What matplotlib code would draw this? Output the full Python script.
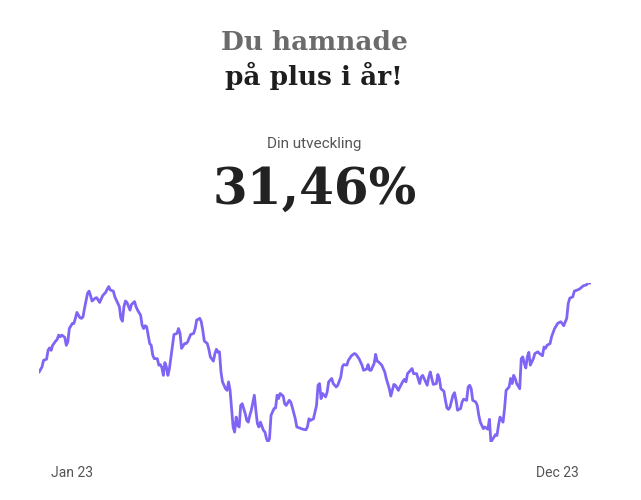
import numpy as np
import matplotlib
matplotlib.use("Agg")
import matplotlib.pyplot as plt

# day of year (0 = 1 Jan 2023) and development in percent
dagar = [0, 2, 3, 5, 6, 7, 8, 9, 11, 12, 13, 14, 15, 17, 18, 19, 20, 22, 23, 24,
         25, 27, 28, 29, 30, 32, 33, 34, 35, 37, 38, 39, 40, 42, 44, 45, 46, 47, 49, 50,
         52, 53, 54, 55, 56, 57, 58, 60, 61, 63, 64, 65, 67, 68, 69, 70, 71, 73, 74, 75,
         76, 78, 79, 80, 81, 82, 83, 84, 85, 86, 88, 89, 91, 92, 93, 94, 96, 97, 98, 100,
         102, 103, 104, 106, 107, 108, 109, 111, 112, 113, 115, 116, 117, 118, 119, 120, 121, 123, 124, 125,
         126, 127, 128, 129, 130, 131, 132, 133, 134, 136, 137, 138, 139, 140, 142, 143, 144, 145, 146, 148,
         149, 150, 151, 152, 153, 155, 156, 157, 158, 159, 161, 162, 163, 165, 166, 167, 169, 170, 172, 174,
         176, 177, 178, 179, 181, 183, 184, 185, 186, 187, 189, 190, 191, 193, 194, 196, 197, 199, 200, 201,
         203, 204, 206, 208, 209, 211, 213, 214, 216, 217, 218, 219, 221, 222, 223, 224, 226, 228, 229, 231,
         232, 233, 234, 235, 237, 238, 240, 241, 242, 243, 245, 246, 247, 249, 250, 251, 252, 253, 255, 256,
         257, 258, 259, 260, 262, 263, 264, 265, 267, 268, 269, 270, 271, 273, 274, 275, 276, 278, 279, 280,
         282, 283, 284, 285, 286, 288, 289, 290, 291, 293, 294, 296, 297, 298, 300, 301, 302, 303, 304, 306,
         307, 308, 310, 311, 312, 313, 314, 315, 317, 318, 319, 320, 321, 322, 323, 324, 326, 327, 329, 330,
         332, 333, 334, 335, 337, 338, 340, 342, 344, 345, 346, 348, 349, 350, 352, 353, 356, 357, 359, 361,
         362, 364]
utveckling = [0.0, 1.9, 4.2, 4.6, 7.8, 8.6, 7.7, 9.5, 11.0, 11.6, 13.1, 12.5, 13.1, 12.3, 9.5, 10.7, 15.4, 17.2, 17.2, 19.0,
              21.1, 19.2, 19.0, 19.5, 22.5, 27.8, 28.6, 27.0, 25.1, 26.1, 26.3, 25.5, 24.6, 27.0, 28.2, 29.3, 30.2, 29.0, 28.6, 26.6,
              24.3, 23.1, 19.0, 18.0, 23.1, 25.1, 24.6, 21.9, 23.9, 24.9, 23.1, 21.9, 20.1, 16.6, 15.4, 16.4, 16.0, 10.1, 9.5, 6.0,
              4.8, 4.8, 2.5, 2.7, 1.7, -1.1, 3.4, 1.9, -1.1, 1.3, 9.5, 13.3, 13.7, 15.4, 13.7, 8.4, 10.1, 10.1, 10.7, 13.3,
              13.7, 15.4, 18.4, 19.0, 17.8, 14.8, 11.0, 10.1, 8.1, 5.4, 3.9, 6.6, 8.1, 7.0, 7.2, 0.1, -3.4, -5.8, -6.4, -3.4,
              -6.4, -12.8, -19.3, -21.1, -15.8, -18.7, -19.3, -11.7, -11.1, -14.6, -17.0, -17.6, -15.2, -13.4, -8.1, -13.4, -18.1, -19.3, -17.6, -20.5,
              -21.1, -23.4, -24.6, -23.4, -15.2, -12.8, -12.6, -8.1, -9.3, -7.5, -8.4, -11.1, -11.7, -9.9, -10.5, -12.3, -16.4, -19.3, -19.7, -20.1,
              -20.3, -19.3, -16.4, -17.0, -16.4, -11.7, -4.6, -4.0, -9.3, -7.5, -8.7, -7.0, -3.4, -2.2, -4.0, -5.2, -4.6, -1.7, 1.9, 2.7,
              2.5, 4.2, 5.8, 6.6, 6.3, 4.8, 2.5, 0.7, 1.1, 2.7, 0.7, 0.7, 3.1, 6.3, 3.9, 3.6, 2.5, 0.1, -2.2, -5.8,
              -8.4, -6.4, -4.3, -4.6, -6.4, -5.2, -3.2, -2.5, -3.4, -0.5, 0.7, 1.3, -0.5, -0.5, -2.2, -4.0, -1.7, -1.1, -3.4, -4.6,
              -1.7, 0.1, -2.2, -4.3, -4.0, -0.8, -2.2, -5.8, -6.7, -9.9, -12.6, -13.1, -12.3, -8.1, -7.2, -9.9, -13.4, -12.8, -10.5, -9.5,
              -9.9, -5.2, -4.6, -5.8, -9.9, -10.5, -11.7, -15.2, -17.6, -19.9, -19.3, -20.1, -16.6, -24.6, -22.9, -22.0, -22.3, -18.7, -15.8, -17.6,
              -12.8, -6.4, -5.2, -2.2, -4.0, -1.1, -2.2, -4.0, -5.8, 4.8, 5.4, 3.1, 1.5, 5.4, 7.0, 2.5, 4.8, 6.6, 7.2, 6.6,
              5.8, 8.9, 8.4, 9.5, 10.1, 12.5, 15.4, 17.2, 17.8, 17.2, 16.4, 19.0, 24.3, 26.1, 26.6, 28.6, 29.2, 29.6, 30.5, 30.8,
              31.4, 31.46]

rubrik_1 = "Du hamnade"
rubrik_2 = "på plus i år!"
underrubrik = "Din utveckling"
resultat = "31,46%"
tick_dagar = [22, 342]
tick_etiketter = ["Jan 23", "Dec 23"]

start = np.datetime64("2023-01-01")
datum = start + np.array(dagar).astype("timedelta64[D]")
tick_datum = start + np.array(tick_dagar).astype("timedelta64[D]")

fig = plt.figure(figsize=(6.41, 5.0), dpi=100)
fig.patch.set_facecolor("white")

slab = ["DejaVu Serif"]
sans = ["Roboto", "DejaVu Sans"]

fig.text(0.49, 1 - 43 / 500, rubrik_1, ha="center", va="center", family=slab,
         weight="bold", fontsize=19, color="#6b6b6b")
fig.text(0.49, 1 - 76 / 500, rubrik_2, ha="center", va="center", family=slab,
         weight="bold", fontsize=19, color="#1e1e1e")
fig.text(0.49, 1 - 144 / 500, underrubrik, ha="center", va="center", family=sans,
         fontsize=11, color="#555555")
fig.text(0.491, 1 - 190 / 500, resultat, ha="center", va="center", family=slab,
         weight="bold", fontsize=36, color="#222222")

ax = fig.add_axes([39 / 641, 1 - 442 / 500, (591 - 39) / 641, (442 - 283) / 500])
ax.plot(datum, utveckling, color="#8064f6", linewidth=2.0,
        solid_joinstyle="round", solid_capstyle="round")
ax.set_xlim(datum[0], datum[-1])
ax.set_ylim(min(utveckling), max(utveckling))
ax.set_xticks(tick_datum)
ax.set_xticklabels(tick_etiketter, family=sans, fontsize=10, color="#555555")
ax.tick_params(axis="x", length=0, pad=17)
ax.set_yticks([])
for s in ax.spines.values():
    s.set_visible(False)
ax.patch.set_alpha(0)

fig.savefig("out.png", dpi=100)
